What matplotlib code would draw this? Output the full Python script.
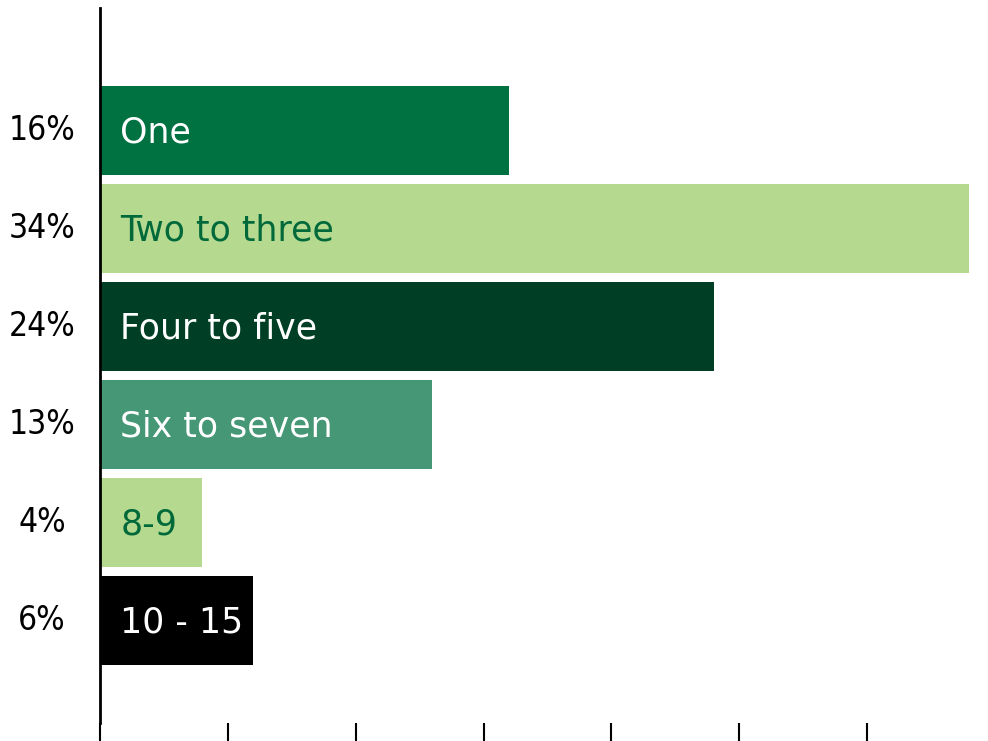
import matplotlib
matplotlib.use("Agg")
import matplotlib.pyplot as plt
from matplotlib.transforms import blended_transform_factory

categories = ["One", "Two to three", "Four to five", "Six to seven", "8-9", "10 - 15"]
values = [16, 34, 24, 13, 4, 6]
pct_labels = ["16%", "34%", "24%", "13%", "4%", "6%"]
bar_colors = ["#007241", "#b5d98f", "#003f25", "#459775", "#b5d98f", "#000000"]
text_colors = ["white", "#00693a", "white", "white", "#00693a", "white"]
xticks = [0, 5, 10, 15, 20, 25, 30]

plt.rcParams["font.family"] = ["DejaVu Sans"]

W, H = 988, 741
fig = plt.figure(figsize=(W / 100, H / 100), dpi=100)

# axes placement in pixels
left_px, top_px, bottom_px = 100, 8, 723
px_per_unit = 25.57
xmax = 35
right_px = left_px + xmax * px_per_unit
ax = fig.add_axes([left_px / W, 1 - bottom_px / H,
                   (right_px - left_px) / W, (bottom_px - top_px) / H])

ypos = list(range(len(categories)))
ax.barh(ypos, values, height=0.908, color=bar_colors, edgecolor="none")
ax.set_xlim(0, xmax)
ax.set_ylim(len(categories) - 1 + 1.046, -1.25)

for y, cat, tc in zip(ypos, categories, text_colors):
    ax.text(0.8, y + 0.02, cat, color=tc, fontsize=25, va="center", ha="left")

trans = blended_transform_factory(fig.transFigure, ax.transData)
for y, lab in zip(ypos, pct_labels):
    fig.text(42 / W, y, lab, transform=trans, fontsize=24, va="center",
             ha="center", color="black", fontstretch="condensed")

for s in ["top", "right", "bottom"]:
    ax.spines[s].set_visible(False)
ax.spines["left"].set_linewidth(2)
ax.spines["left"].set_color("black")
ax.set_yticks([])
ax.set_xticks(xticks)
ax.set_xticklabels([])
ax.tick_params(axis="x", direction="out", length=13.5, width=1.5, color="black")

fig.savefig("out.png", dpi=100)
